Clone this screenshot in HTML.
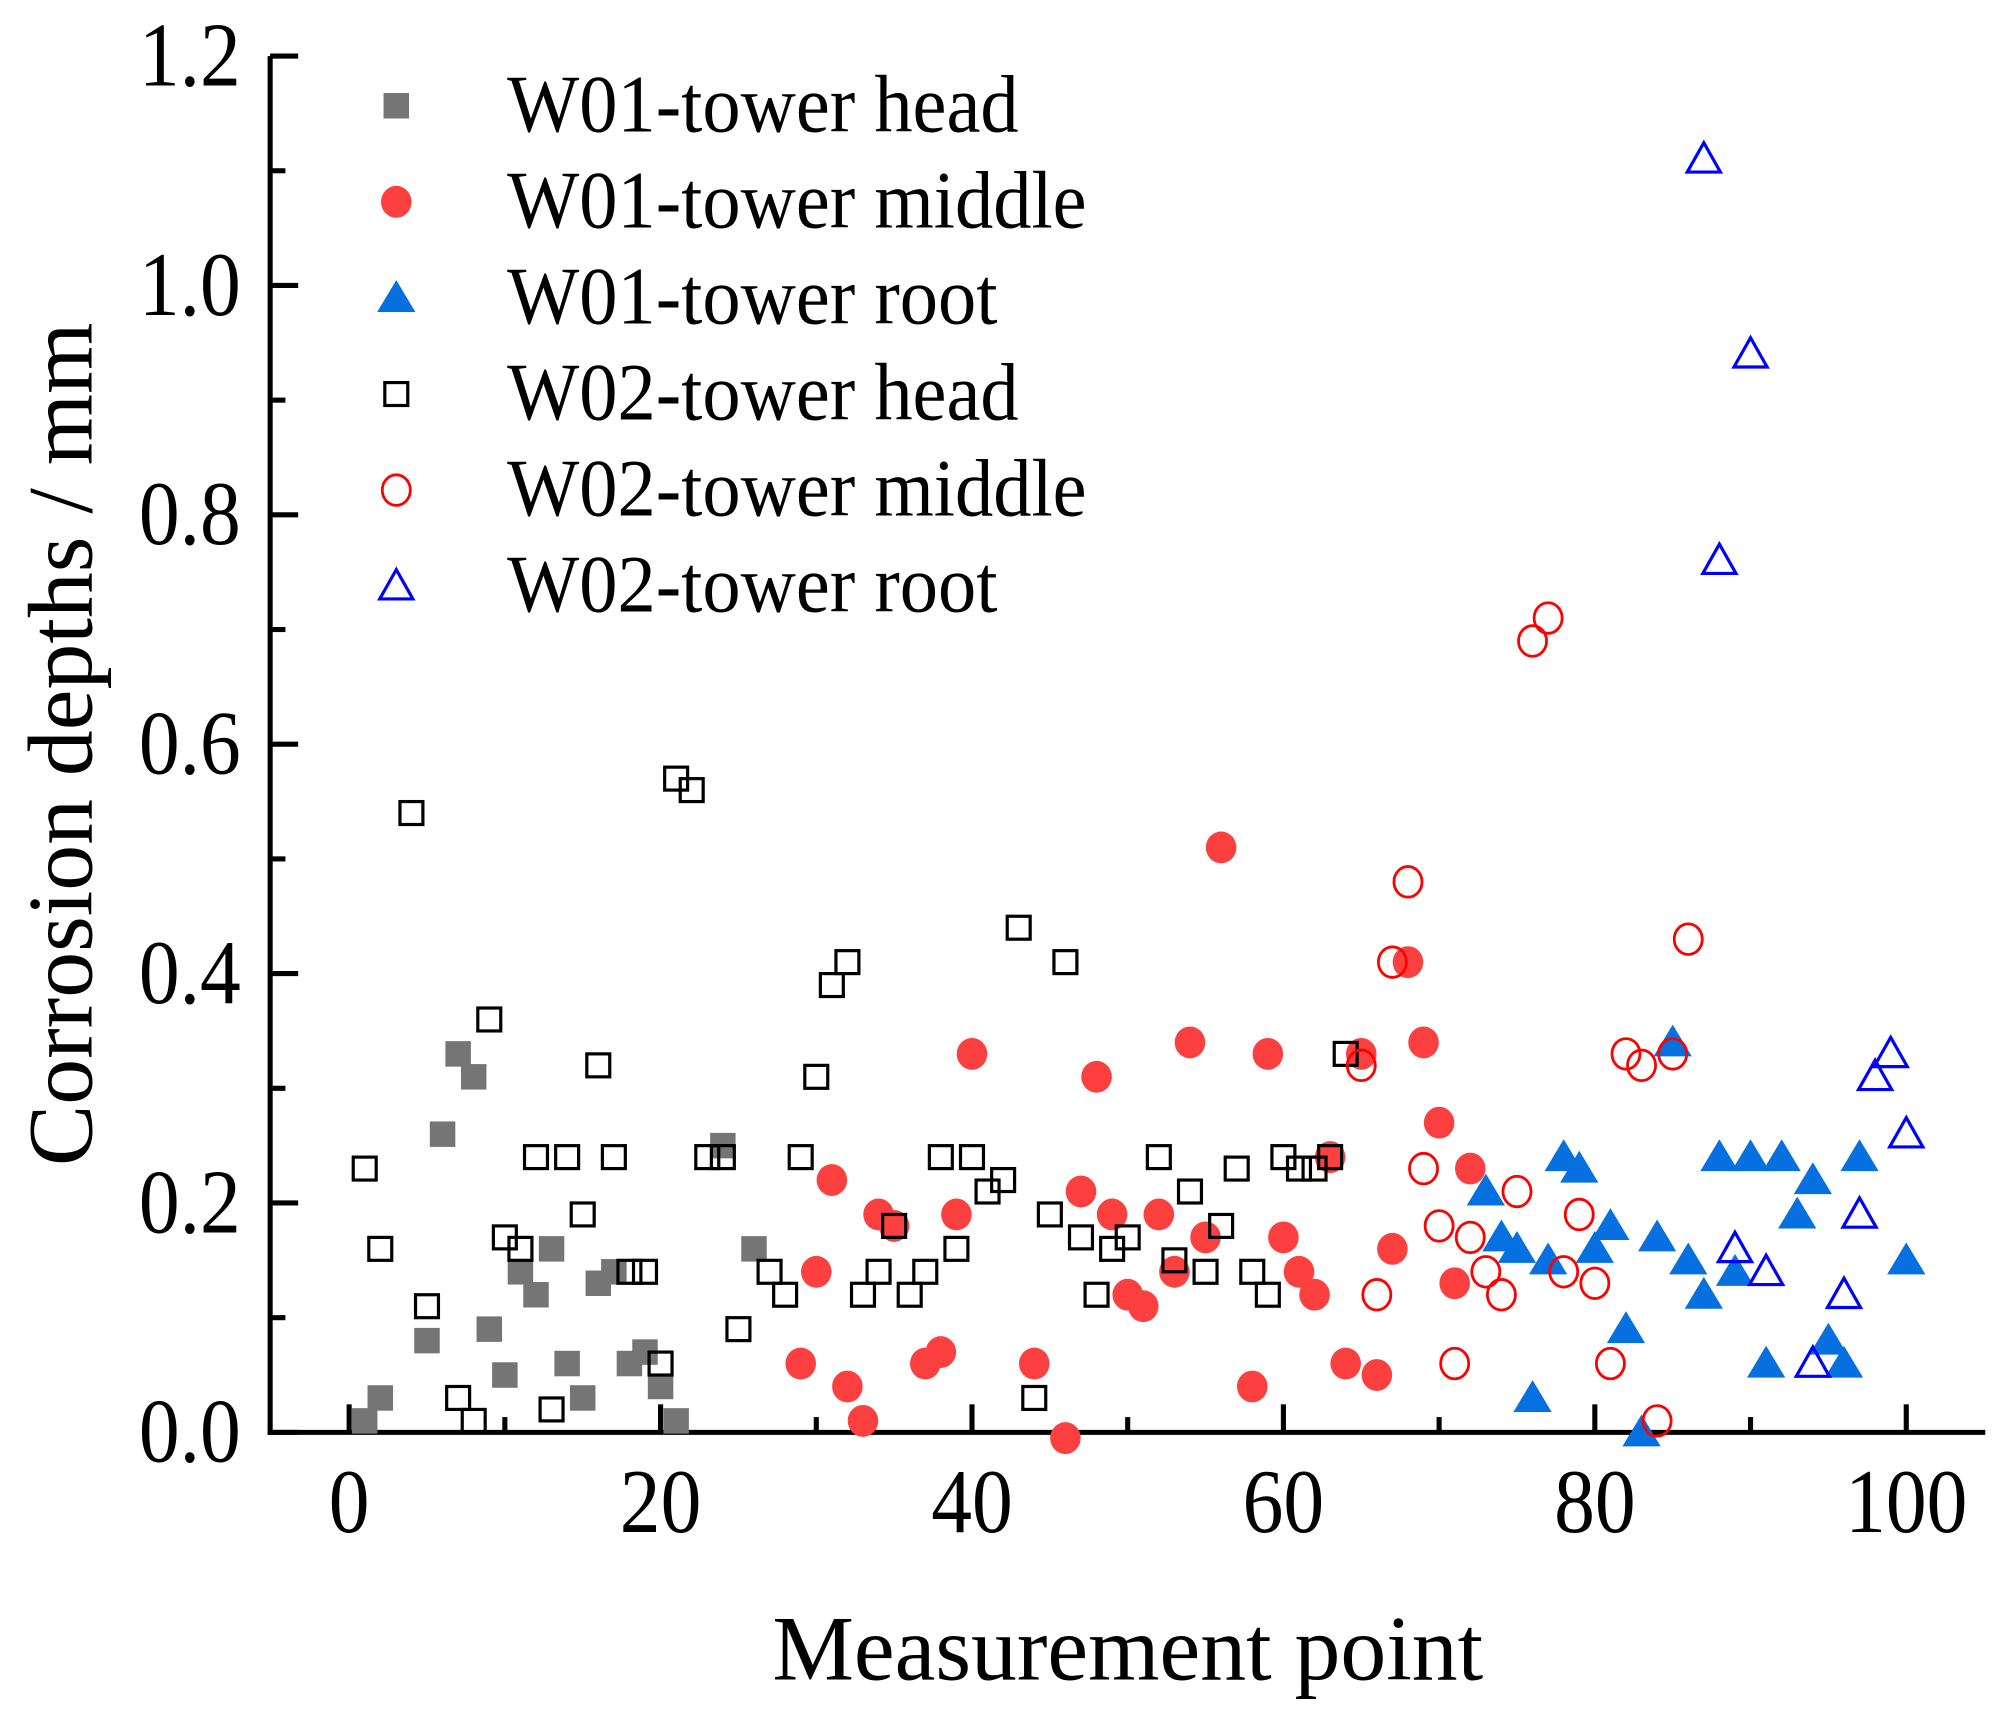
<!DOCTYPE html>
<html><head><meta charset="utf-8"><style>
html,body{margin:0;padding:0;background:#fff;width:1998px;height:1714px;overflow:hidden}
svg{display:block}
text{font-family:"Liberation Serif",serif;fill:#000}
</style></head><body>
<svg id="chart" width="1998" height="1714" viewBox="0 0 1568 1345" preserveAspectRatio="none" xmlns="http://www.w3.org/2000/svg">
<g id="axes"></g>
<g id="marks"></g>
<g id="legend"></g>
<text transform="translate(72,584) rotate(-90)" text-anchor="middle" font-size="72">Corrosion depths / mm</text>
<text x="885" y="1318" text-anchor="middle" font-size="72">Measurement point</text>
</svg>
<script>
const xTicks=[0,20,40,60,80,100];
const yTicks=[0.0,0.2,0.4,0.6,0.8,1.0,1.2];
const yTickLabels=["0.0","0.2","0.4","0.6","0.8","1.0","1.2"];
const w01HeadX=[1,2,5,6,7,8,9,10,11,12,13,14,15,16,17,18,19,20,21,24,26];
const w01HeadY=[0.01,0.03,0.08,0.26,0.33,0.31,0.09,0.05,0.14,0.12,0.16,0.06,0.03,0.13,0.14,0.06,0.07,0.04,0.01,0.25,0.16];
const w01MidX=[29,30,31,32,33,34,35,37,38,39,40,44,46,47,48,49,50,51,52,53,54,55,56,58,59,60,61,62,63,64,65,66,67,68,69,70,71,72];
const w01MidY=[0.06,0.14,0.22,0.04,0.01,0.19,0.18,0.06,0.07,0.19,0.33,0.06,-0.005,0.21,0.31,0.19,0.12,0.11,0.19,0.14,0.34,0.17,0.51,0.04,0.33,0.17,0.14,0.12,0.24,0.06,0.33,0.05,0.16,0.41,0.34,0.27,0.13,0.23];
const w01RootX=[73,74,75,76,77,78,79,80,81,82,83,84,85,86,87,88,89,90,91,92,93,94,95,96,97,100];
const w01RootY=[0.21,0.17,0.16,0.03,0.15,0.24,0.23,0.16,0.18,0.09,0.0,0.17,0.34,0.15,0.12,0.24,0.14,0.24,0.06,0.24,0.19,0.22,0.08,0.06,0.24,0.15];
const w02HeadX=[1,2,4,5,7,8,9,10,11,12,13,14,15,16,17,18,19,20,21,22,23,24,25,27,28,29,30,31,32,33,34,35,36,37,38,39,40,41,42,43,44,45,46,47,48,49,50,52,53,54,55,56,57,58,59,60,61,62,63,64];
const w02HeadY=[0.23,0.16,0.54,0.11,0.03,0.01,0.36,0.17,0.16,0.24,0.02,0.24,0.19,0.32,0.24,0.14,0.14,0.06,0.57,0.56,0.24,0.24,0.09,0.14,0.12,0.24,0.31,0.39,0.41,0.12,0.14,0.18,0.12,0.14,0.24,0.16,0.24,0.21,0.22,0.44,0.03,0.19,0.41,0.17,0.12,0.16,0.17,0.24,0.15,0.21,0.14,0.18,0.23,0.14,0.12,0.24,0.23,0.23,0.24,0.33];
const w02MidX=[65,66,67,68,69,70,71,72,73,74,75,76,77,78,79,80,81,82,83,84,85,86];
const w02MidY=[0.32,0.12,0.41,0.48,0.23,0.18,0.06,0.17,0.14,0.12,0.21,0.69,0.71,0.14,0.19,0.13,0.06,0.33,0.32,0.01,0.33,0.43];
const w02RootX=[87,88,89,90,91,94,96,97,98,99,100];
const w02RootY=[1.11,0.76,0.16,0.94,0.14,0.06,0.12,0.19,0.31,0.33,0.26];
const legendLabels=["W01-tower head","W01-tower middle","W01-tower root","W02-tower head","W02-tower middle","W02-tower root"];

const NS="http://www.w3.org/2000/svg";
const xs=v=>274+v*12.22;
const ys=v=>1124-v*900;
function mk(tag,attrs,parent){const e=document.createElementNS(NS,tag);for(const k in attrs)e.setAttribute(k,attrs[k]);parent.appendChild(e);return e;}
const axes=document.getElementById('axes');
let el=mk('line',{x1:212,y1:44,x2:212,y2:1126,stroke:'#000','stroke-width':4},axes);


el=mk('line',{x1:210,y1:1124,x2:1558,y2:1124,stroke:'#000','stroke-width':4},axes);


for(let v=0;v<=1.2001;v+=0.1){const major=Math.abs(v*10/2-Math.round(v*10/2))<0.01;
 el=mk('line',{x1:212,y1:ys(v),x2:212+(major?22:12),y2:ys(v),stroke:'#000','stroke-width':4},axes);
 
 }
yTicks.forEach((v,i)=>{el=mk('text',{transform:`translate(189,${ys(v)+23}) scale(1,1.12)`,'text-anchor':'end','font-size':64},axes);el.textContent=yTickLabels[i];
 
 });
for(let v=0;v<=100;v+=10){const major=v%20===0;
 el=mk('line',{x1:xs(v),y1:1124,x2:xs(v),y2:1124-(major?22:12),stroke:'#000','stroke-width':4},axes);
 
 }
xTicks.forEach(v=>{el=mk('text',{transform:`translate(${xs(v)},1202) scale(1,1.12)`,'text-anchor':'middle','font-size':64},axes);el.textContent=String(v);
 
 });

function marker(type,cx,cy,parent){
 let e;
 if(type==='fsq') e=mk('rect',{x:cx-10,y:cy-10,width:20,height:20,fill:'#757575'},parent);
 else if(type==='osq') e=mk('rect',{x:cx-9,y:cy-9,width:18,height:18,fill:'none',stroke:'#000','stroke-width':2.5},parent);
 else if(type==='fci') e=mk('ellipse',{cx:cx,cy:cy,rx:12,ry:12.5,fill:'#fc4040'},parent);
 else if(type==='oci') e=mk('ellipse',{cx:cx,cy:cy,rx:11,ry:12,fill:'none',stroke:'#f00','stroke-width':2.2},parent);
 else if(type==='ftr') e=mk('polygon',{points:`${cx-15},${cy+11} ${cx+15},${cy+11} ${cx},${cy-14}`,fill:'#0670e0'},parent);
 else e=mk('polygon',{points:`${cx-13},${cy+10} ${cx+13},${cy+10} ${cx},${cy-13}`,fill:'none',stroke:'#00f','stroke-width':2.5},parent);
 return e;
}
const marks=document.getElementById('marks');
const series=[['w01-head','fsq',w01HeadX,w01HeadY],['w01-middle','fci',w01MidX,w01MidY],['w01-root','ftr',w01RootX,w01RootY],
 ['w02-head','osq',w02HeadX,w02HeadY],['w02-middle','oci',w02MidX,w02MidY],['w02-root','otr',w02RootX,w02RootY]];
series.forEach(s=>{s[2].forEach((x,i)=>{const e=marker(s[1],xs(x),ys(s[3][i]),marks);
 
 });});
const legend=document.getElementById('legend');
series.forEach((s,i)=>{const y=83+i*75.4;
 const e=marker(s[1],311,y,legend);
 
 
 const t=mk('text',{transform:`translate(398,${y+20}) scale(1,1.06)`,'font-size':60},legend);t.textContent=legendLabels[i];
 
 });
</script>
</body></html>
